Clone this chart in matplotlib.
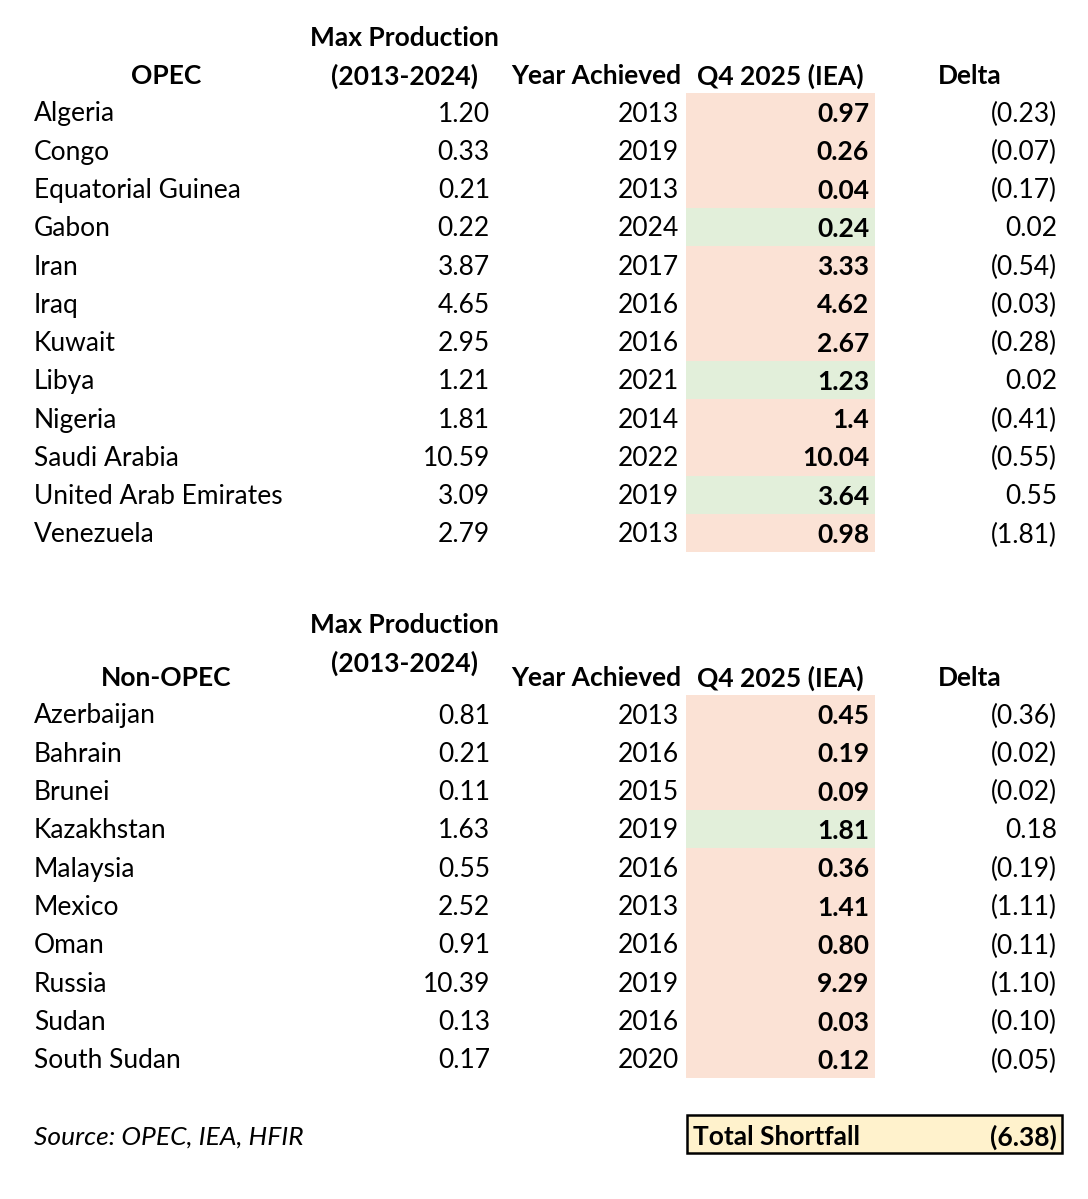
import matplotlib.pyplot as plt
from matplotlib.patches import Rectangle

plt.rcParams['font.family'] = ['Lato', 'DejaVu Sans']

opec = ["Algeria", "Congo", "Equatorial Guinea", "Gabon", "Iran", "Iraq", "Kuwait",
        "Libya", "Nigeria", "Saudi Arabia", "United Arab Emirates", "Venezuela"]
opec_max = ["1.20", "0.33", "0.21", "0.22", "3.87", "4.65", "2.95", "1.21", "1.81", "10.59", "3.09", "2.79"]
opec_year = [2013, 2019, 2013, 2024, 2017, 2016, 2016, 2021, 2014, 2022, 2019, 2013]
opec_q4 = ["0.97", "0.26", "0.04", "0.24", "3.33", "4.62", "2.67", "1.23", "1.4", "10.04", "3.64", "0.98"]
opec_delta = [-0.23, -0.07, -0.17, 0.02, -0.54, -0.03, -0.28, 0.02, -0.41, -0.55, 0.55, -1.81]

nonopec = ["Azerbaijan", "Bahrain", "Brunei", "Kazakhstan", "Malaysia", "Mexico",
           "Oman", "Russia", "Sudan", "South Sudan"]
nonopec_max = ["0.81", "0.21", "0.11", "1.63", "0.55", "2.52", "0.91", "10.39", "0.13", "0.17"]
nonopec_year = [2013, 2016, 2015, 2019, 2016, 2013, 2016, 2019, 2016, 2020]
nonopec_q4 = ["0.45", "0.19", "0.09", "1.81", "0.36", "1.41", "0.80", "9.29", "0.03", "0.12"]
nonopec_delta = [-0.36, -0.02, -0.02, 0.18, -0.19, -1.11, -0.11, -1.10, -0.10, -0.05]

total_shortfall = -6.38

RED = '#FBE2D5'
GREEN = '#E2EFDA'
YELLOW = '#FFF2CC'
FS = 19
DY = 2  # small nudge so text sits where the reference has it

fig = plt.figure(figsize=(10.88, 11.99), dpi=100)
ax = fig.add_axes([0, 0, 1, 1])
ax.set_xlim(0, 1088)
ax.set_ylim(1199, 0)
ax.axis('off')


def fmt(d):
    return f"({abs(d):.2f})" if d < 0 else f"{d:.2f}"


def txt(x, y, s, ha='left', **kw):
    ax.text(x, y + DY, s, fontsize=FS, ha=ha, va='center', **kw)


def block(names, maxp, years, q4, delta, y0, pitch):
    for i, name in enumerate(names):
        y = y0 + i * pitch
        col = GREEN if delta[i] > 0 else RED
        ax.add_patch(Rectangle((686, y - pitch / 2), 189, pitch, facecolor=col, edgecolor='none'))
        txt(34, y, name)
        txt(490, y, maxp[i], ha='right')
        txt(679, y, str(years[i]), ha='right')
        txt(869, y, q4[i], ha='right', fontweight='bold')
        txt(1057, y, fmt(delta[i]), ha='right')


def header(title, y_top, y_bot, y_other):
    txt(166, y_other, title, ha='center', fontweight='bold')
    txt(404, y_top, "Max Production", ha='center', fontweight='bold')
    txt(404, y_bot, "(2013-2024)", ha='center', fontweight='bold')
    txt(596, y_other, "Year Achieved", ha='center', fontweight='bold')
    txt(780, y_other, "Q4 2025 (IEA)", ha='center', fontweight='bold')
    txt(970, y_other, "Delta", ha='center', fontweight='bold')


header("OPEC", 36, 74, 74)
block(opec, opec_max, opec_year, opec_q4, opec_delta, 112, 38.27)

header("Non-OPEC", 623, 661, 676)
block(nonopec, nonopec_max, nonopec_year, nonopec_q4, nonopec_delta, 714, 38.33)

txt(34, 1135, "Source: OPEC, IEA, HFIR", style='italic')
ax.add_patch(Rectangle((687, 1115), 375, 38, facecolor=YELLOW, edgecolor='black', linewidth=1.8))
txt(693, 1135, "Total Shortfall", fontweight='bold')
txt(1057, 1135, fmt(total_shortfall), ha='right', fontweight='bold')

fig.savefig("out.png", dpi=100, facecolor='white')
